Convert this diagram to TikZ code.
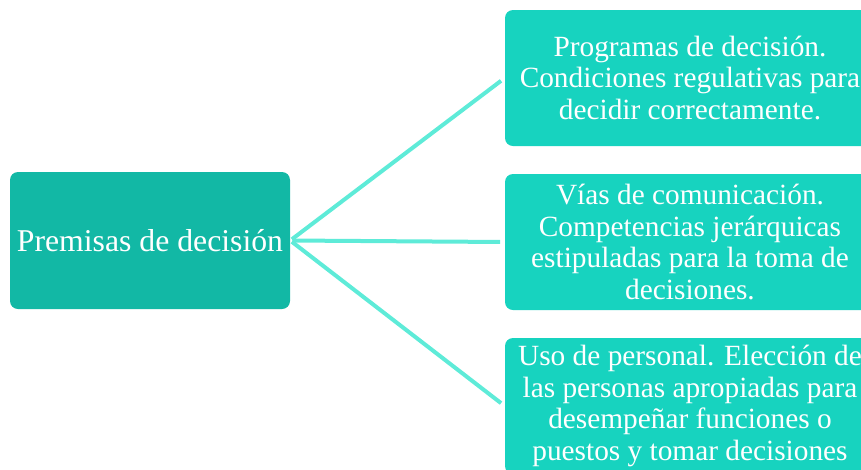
\documentclass[tikz,border=0pt]{standalone}
\usepackage{fontspec}
\setmainfont{Liberation Serif}
\usetikzlibrary{calc}
\definecolor{premisa}{HTML}{12B8A5}
\definecolor{rama}{HTML}{17D3BF}
\definecolor{enlace}{HTML}{5EEBD8}

\begin{document}
\begin{tikzpicture}[x=0.75pt,y=-0.75pt,
	caja/.style={rectangle, rounded corners=6pt, text=white, align=center, inner sep=0pt},
	rama/.style={caja, fill=rama, minimum width=277.5pt, minimum height=102pt, font=\fontsize{22}{23.8}\selectfont}]
		\useasboundingbox (0,0) rectangle (861,469);
		\node[caja, fill=premisa, minimum width=210pt, minimum height=102.75pt, font=\fontsize{23.8}{27}\selectfont] (D) at (150,240.5) {Premisas de decisión};
		\node[rama] (R1) at (690,78) {Programas de decisión.\\Condiciones regulativas para\\decidir correctamente.};
		\node[rama] (R2) at (690,242) {Vías de comunicación.\\Competencias jerárquicas\\estipuladas para la toma de\\decisiones.};
		\node[rama] (R3) at (690,406) {Uso de personal. Elección de\\las personas apropiadas para\\desempeñar funciones o\\puestos y tomar decisiones};
		\path[draw=enlace, line width=3pt, shorten >=3.5pt, shorten <=1.5pt] (D.east) edge (R1.west)
			(D.east) edge (R2.west)
			(D.east) edge (R3.west);
	\end{tikzpicture}
\end{document}
